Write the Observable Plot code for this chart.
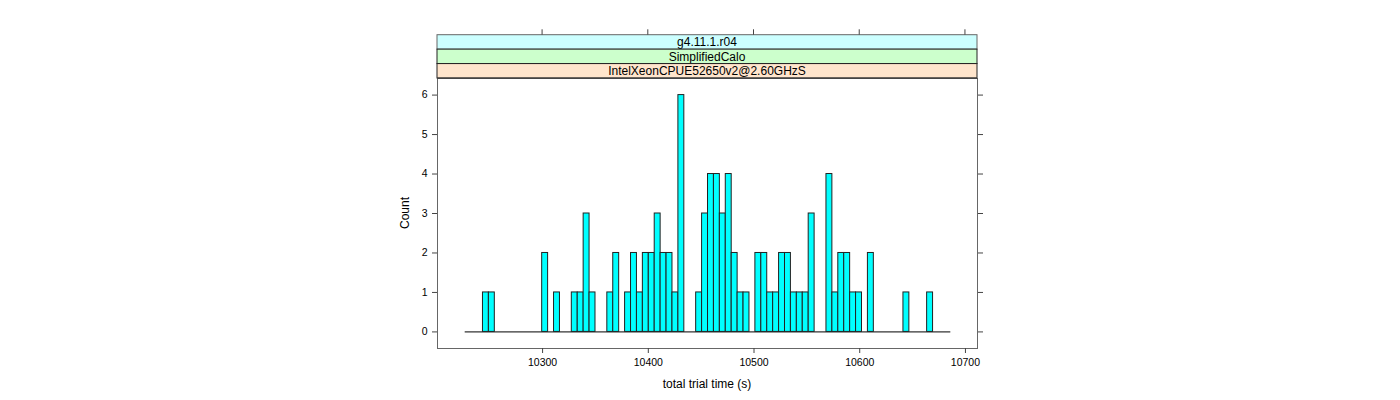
<!DOCTYPE html>
<html><head><meta charset="utf-8">
<script src="https://cdn.jsdelivr.net/npm/d3@7"></script>
<script src="https://cdn.jsdelivr.net/npm/@observablehq/plot@0.6"></script>
<style>body{margin:0;background:#fff;} svg{display:block;}</style>
</head><body><div id="chart"></div>
<script>
const stripLabels = ["g4.11.1.r04", "SimplifiedCalo", "IntelXeonCPUE52650v2@2.60GHzS"];
const stripColors = ["#ccffff", "#ccffcc", "#ffe5cc"];
const binStart = 10226.8;   // first histogram break (s)
const binWidth = 5.602;     // histogram bin width (s)
const counts = [
  0,0,0, 1,1, 0,0,0,0,0,0,0,0, 2, 0, 1, 0,0, 1,1,3,1, 0,0, 1,2, 0,
  1,2,1,2,2,3,2,2,1,6, 0,0, 1,3,4,4,3,4,2,1,1, 0,
  2,2,1,1,2,2,1,1,1,3, 0,0, 4,1,2,2,1,1, 0, 2, 0,0,0,0,0, 1, 0,0,0, 1, 0,0,0
];
const xTicks = [10300, 10400, 10500, 10600, 10700];
const yTicks = [0, 1, 2, 3, 4, 5, 6];
const xLabel = "total trial time (s)";
const yLabel = "Count";

const bins = counts.map((c, i) => ({x1: binStart + i * binWidth, x2: binStart + (i + 1) * binWidth, count: c}));
const nonzero = bins.filter(d => d.count > 0);

const font = "'Liberation Sans', Arial, Helvetica, sans-serif";
const chart = Plot.plot({
  width: 1400, height: 400,
  marginLeft: 437, marginRight: 423, marginTop: 78, marginBottom: 52,
  style: {fontFamily: font, fontSize: "10.5px", color: "black", background: "white", overflow: "visible"},
  x: {domain: [10200.6, 10711.4]},
  y: {domain: [-0.42, 6.42]},
  marks: [
    Plot.frame({stroke: "#666"}),
    Plot.ruleY([0], {x1: bins[0].x1, x2: bins[bins.length - 1].x2, stroke: "black"}),
    Plot.rect(nonzero, {x1: "x1", x2: "x2", y1: 0, y2: "count", fill: "#00ffff", stroke: "#222", strokeWidth: 1}),
    Plot.axisX({ticks: xTicks, tickSize: 5, tickPadding: 5, label: null, tickFormat: d => String(d), stroke: "#444"}),
    Plot.axisY({ticks: yTicks, tickSize: 5, tickPadding: 5, label: null, tickFormat: d => String(d), stroke: "#444"}),
    Plot.axisY({anchor: "right", ticks: yTicks, tickSize: 5, label: null, tickFormat: () => "", stroke: "#444"})
  ]
});
document.getElementById("chart").appendChild(chart);

const svg = d3.select(chart);
const xs = chart.scale("x");
const left = 437, right = 977, stripTop = 34.7, stripH = (78 - 34.7) / 3;
const g = svg.append("g");
stripLabels.forEach((lab, i) => {
  const y = stripTop + i * stripH;
  g.append("rect").attr("x", left).attr("y", y).attr("width", right - left).attr("height", stripH)
    .attr("fill", stripColors[i]).attr("stroke", i === 0 ? "#666" : "#222").attr("stroke-width", 1);
  g.append("text").attr("x", (left + right) / 2).attr("y", y + stripH / 2).attr("dy", "0.36em")
    .attr("text-anchor", "middle").attr("font-family", font).attr("font-size", "12px").attr("fill", "black").text(lab);
});
g.append("line").attr("x1", left).attr("x2", right).attr("y1", 78).attr("y2", 78).attr("stroke", "#444");
xTicks.forEach(v => {
  const x = xs.apply(v);
  g.append("line").attr("x1", x).attr("x2", x).attr("y1", 29.3).attr("y2", stripTop).attr("stroke", "#444");
});
g.append("text").attr("x", (left + right) / 2).attr("y", 384).attr("dy", "0.36em").attr("text-anchor", "middle")
  .attr("font-family", font).attr("font-size", "12px").attr("fill", "black").text(xLabel);
g.append("text").attr("transform", `translate(405,213) rotate(-90)`).attr("dy", "0.36em").attr("text-anchor", "middle")
  .attr("font-family", font).attr("font-size", "12px").attr("fill", "black").text(yLabel);
</script>
</body></html>
